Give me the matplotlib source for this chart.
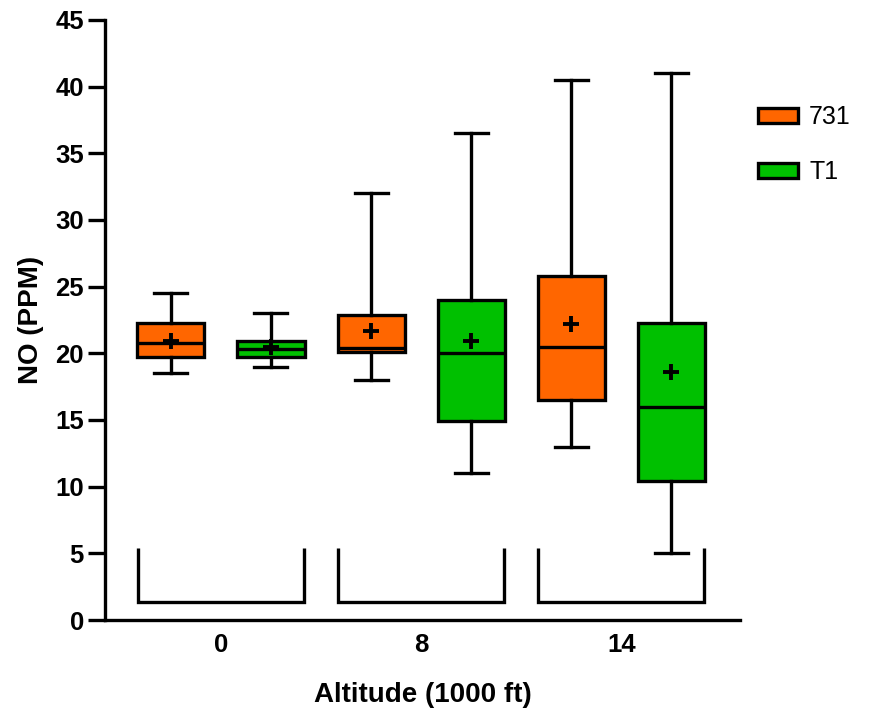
import matplotlib.pyplot as plt
from matplotlib.patches import Patch

plt.rcParams.update({
    "font.family": ["Liberation Sans", "DejaVu Sans"],
    "font.weight": "bold",
    "axes.linewidth": 2.4,
})

# data
altitudes = ["0", "8", "14"]
series = ["731", "T1"]
colors = ["#FF6600", "#00C000"]

# order: alt 0 (731, T1), alt 8 (731, T1), alt 14 (731, T1)
whislo = [18.5, 19.0, 18.0, 11.0, 13.0, 5.0]
q1 = [19.7, 19.7, 20.1, 14.9, 16.5, 10.4]
med = [20.8, 20.3, 20.4, 20.0, 20.5, 16.0]
q3 = [22.3, 20.9, 22.9, 24.0, 25.8, 22.3]
whishi = [24.5, 23.0, 32.0, 36.5, 40.5, 41.0]
means = [20.9, 20.5, 21.7, 20.9, 22.2, 18.6]

stats = []
for i in range(len(med)):
    stats.append({"whislo": whislo[i], "q1": q1[i], "med": med[i],
                  "q3": q3[i], "whishi": whishi[i], "mean": means[i]})

positions = list(range(len(stats)))

fig = plt.figure(figsize=(8.74, 7.09), dpi=100)
ax = fig.add_axes([0.120, 0.1255, 0.727, 0.8465])

lw = 2.4
bp = ax.bxp(stats, positions=positions, widths=0.67, showmeans=True,
            showfliers=False, patch_artist=True,
            boxprops=dict(linewidth=lw, edgecolor="black"),
            medianprops=dict(color="black", linewidth=lw),
            whiskerprops=dict(color="black", linewidth=lw),
            capprops=dict(color="black", linewidth=lw),
            meanprops=dict(marker="+", markeredgecolor="black",
                           markersize=11, markeredgewidth=2.8),
            capwidths=0.33)
for i, box in enumerate(bp["boxes"]):
    box.set_facecolor(colors[i % 2])

# group brackets under each altitude
group_centers = [0.5, 2.5, 4.5]
for c in group_centers:
    ax.plot([c - 0.83, c - 0.83, c + 0.83, c + 0.83], [5.4, 1.35, 1.35, 5.4],
            color="black", linewidth=lw, solid_joinstyle="miter",
            solid_capstyle="butt")

ax.set_xlim(-0.66, 5.69)
ax.set_ylim(0, 45)
ax.set_yticks(range(0, 46, 5))
ax.set_xticks(group_centers)
ax.set_xticklabels(altitudes)
ax.tick_params(axis="y", length=12, width=lw, labelsize=18.5, pad=3)
ax.tick_params(axis="x", length=0, labelsize=18.5, pad=9)
ax.spines["top"].set_visible(False)
ax.spines["right"].set_visible(False)

ax.set_xlabel("Altitude (1000 ft)", fontsize=20, fontweight="bold", labelpad=18)
ax.set_ylabel("NO (PPM)", fontsize=20, fontweight="bold", labelpad=8)

handles = [Patch(facecolor=colors[k], edgecolor="black", linewidth=lw,
                 label=series[k]) for k in range(2)]
ax.legend(handles=handles, loc="upper left", bbox_to_anchor=(0.867, 0.852),
          bbox_transform=fig.transFigure,
          frameon=False, prop={"size": 18, "weight": "normal"},
          handlelength=1.6, handleheight=0.55, labelspacing=1.25,
          handletextpad=0.45, borderaxespad=0, borderpad=0)

fig.savefig("out.png", dpi=100)
